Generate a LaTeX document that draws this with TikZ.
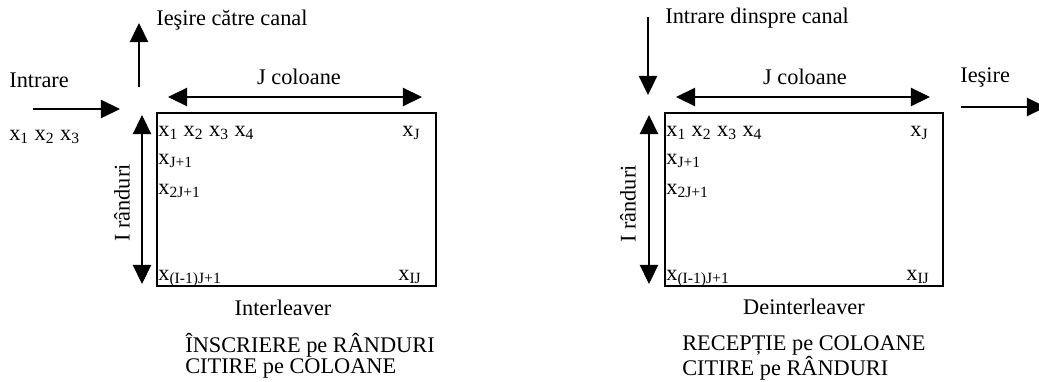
\documentclass[tikz,border=0pt]{standalone}
\usepackage{fontspec}
\setmainfont{Liberation Serif}
\usetikzlibrary{arrows.meta}
\begin{document}
\begin{tikzpicture}[
  x=0.6pt, y=-0.6pt,
  txt/.style={inner sep=0pt, font=\fontsize{13.4}{16}\selectfont},
  cell/.style={txt, anchor=west},
  arr/.style={line width=0.9pt, -{Triangle[length=11.5pt, width=11pt]}},
  darr/.style={line width=0.9pt, {Triangle[length=11.5pt, width=11pt]}-{Triangle[length=11.5pt, width=11pt]}},
  matrice/.style={draw, line width=1.2pt, inner sep=0pt, anchor=north west}
]
  \useasboundingbox (0,0) rectangle (1039,381);

  % Interleaver (stanga)
  \node[matrice, minimum width=167.4pt, minimum height=103.8pt] (m1) at (156,112) {};
  \node[txt, anchor=west] (iesc) at (156,20) {Ieşire către canal};
  \node[txt, anchor=west] (intr) at (9,80) {Intrare};
  \node[txt, anchor=west] (xin) at (9,137) {x\textsubscript{1} x\textsubscript{2} x\textsubscript{3}};
  \node[txt] (jcol1) at (299,77) {J coloane};
  \node[txt, rotate=90] (irand1) at (122,203) {I rânduri};

  \node[cell] (a11) at (158,133) {x\textsubscript{1} x\textsubscript{2} x\textsubscript{3} x\textsubscript{4}};
  \node[cell] (a21) at (158,161) {x\textsubscript{J+1}};
  \node[cell] (a31) at (158,191) {x\textsubscript{2J+1}};
  \node[txt, anchor=base west] (aI1) at (158,280) {x\textsubscript{(I-1)J+1}};
  \node[cell] (a1J) at (402,133) {x\textsubscript{J}};
  \node[txt, anchor=base west] (aIJ) at (398,280) {x\textsubscript{IJ}};

  \node[txt] (nume1) at (283,308) {Interleaver};
  \node[txt, anchor=west] (ins1) at (185,345) {ÎNSCRIERE pe RÂNDURI};
  \node[txt, anchor=west] (cit1) at (185,368) {CITIRE pe COLOANE};

  \coordinate (up0) at (139,87);
  \coordinate (up1) at (139,23);
  \coordinate (in0) at (33,109);
  \coordinate (in1) at (120,109);
  \coordinate (jl1) at (168,97);
  \coordinate (jr1) at (422,97);
  \coordinate (it1) at (142,115);
  \coordinate (ib1) at (142,284);

  \draw[arr] (up0) -- (up1);
  \draw[arr] (in0) -- (in1);
  \draw[darr] (jl1) -- (jr1);
  \draw[darr] (it1) -- (ib1);

  % Deinterleaver (dreapta)
  \node[matrice, minimum width=166.8pt, minimum height=103.8pt] (m2) at (664,112) {};
  \node[txt, anchor=west] (intc) at (665,18) {Intrare dinspre canal};
  \node[txt, anchor=west] (ies) at (960,77) {Ieşire};
  \node[txt] (jcol2) at (805,77) {J coloane};
  \node[txt, rotate=90] (irand2) at (628,204) {I rânduri};

  \node[cell] (b11) at (666,133) {x\textsubscript{1} x\textsubscript{2} x\textsubscript{3} x\textsubscript{4}};
  \node[cell] (b21) at (666,161) {x\textsubscript{J+1}};
  \node[cell] (b31) at (666,191) {x\textsubscript{2J+1}};
  \node[txt, anchor=base west] (bI1) at (666,280) {x\textsubscript{(I-1)J+1}};
  \node[cell] (b1J) at (910,133) {x\textsubscript{J}};
  \node[txt, anchor=base west] (bIJ) at (906,280) {x\textsubscript{IJ}};

  \node[txt] (nume2) at (804,307) {Deinterleaver};
  \node[txt, anchor=west] (rec2) at (682,345) {RECEPȚIE pe COLOANE};
  \node[txt, anchor=west] (cit2) at (682,368) {CITIRE pe RÂNDURI};

  \coordinate (dn0) at (648,17);
  \coordinate (dn1) at (648,95);
  \coordinate (out0) at (961,107);
  \coordinate (out1) at (1046,107);
  \coordinate (jl2) at (676,97);
  \coordinate (jr2) at (930,97);
  \coordinate (it2) at (649,115);
  \coordinate (ib2) at (649,284);

  \draw[arr] (dn0) -- (dn1);
  \draw[arr] (out0) -- (out1);
  \draw[darr] (jl2) -- (jr2);
  \draw[darr] (it2) -- (ib2);

\end{tikzpicture}
\end{document}
